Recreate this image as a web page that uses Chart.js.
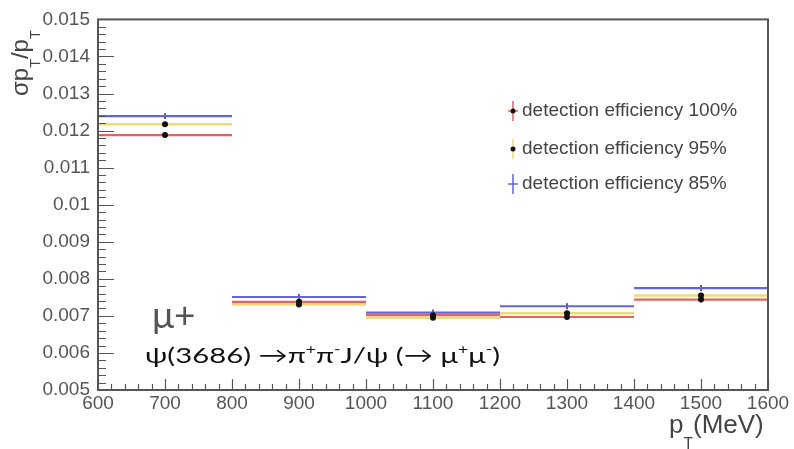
<!DOCTYPE html>
<html>
<head>
<meta charset="utf-8">
<script src="https://cdn.jsdelivr.net/npm/chart.js@4"></script>
<style>
  html, body { margin: 0; padding: 0; background: #fff; }
  #wrap { width: 794px; height: 449px; }
</style>
</head>
<body>
<div id="wrap"><canvas id="resChart" width="794" height="449"></canvas></div>
<script>
// bins in pT (MeV)
const binEdges = [600, 800, 1000, 1200, 1400, 1600];
const binCenters = [700, 900, 1100, 1300, 1500];

// sigma(pT)/pT per bin
const eff100 = [0.01188, 0.00738, 0.00702, 0.00697, 0.00744];
const eff95  = [0.01217, 0.00731, 0.00695, 0.00707, 0.00755];
const eff85  = [0.01239, 0.00751, 0.00709, 0.00726, 0.00775];
const err100 = [0.00008, 0.00008, 0.00008, 0.00008, 0.00008];
const err95  = [0.00008, 0.00008, 0.00008, 0.00008, 0.00008];
const err85  = [0.00008, 0.00008, 0.00008, 0.00008, 0.00008];

const legendLabels = ['detection efficiency 100%', 'detection efficiency 95%', 'detection efficiency 85%'];
const xTickLabels = ['600', '700', '800', '900', '1000', '1100', '1200', '1300', '1400', '1500', '1600'];
const yTickLabels = ['0.005', '0.006', '0.007', '0.008', '0.009', '0.01', '0.011', '0.012', '0.013', '0.014', '0.015'];

const RED = '#e06464';
const YELLOW = '#f3d877';
const BLUE = '#6464dc';
const AXIS = '#555';
const SANS = 'Liberation Sans';

// horizontal step segments for one series
function steps(vals) {
    const pts = [];
    vals.forEach((v, i) => {
        pts.push({x: binEdges[i], y: v});
        pts.push({x: binEdges[i + 1], y: v});
        pts.push({x: binEdges[i + 1], y: null});
    });
    return pts;
}

const series = [
    {vals: eff100, errs: err100, color: RED, dot: true, cross: true},
    {vals: eff95, errs: err95, color: YELLOW, dot: true, cross: false},
    {vals: eff85, errs: err85, color: BLUE, dot: false, cross: true}
];

// subscript / superscript text helper
function drawRich(ctx, parts, x, y, size, family, color, subDrop) {
    let cx = x;
    ctx.fillStyle = color;
    ctx.textBaseline = 'alphabetic';
    ctx.textAlign = 'left';
    for (const [t, m] of parts) {
        const s = m === 'n' ? size : size * 0.6;
        const dy = m === 'sub' ? size * (subDrop || 0.3) : (m === 'sup' ? -size * 0.42 : 0);
        ctx.font = s + 'px "' + family + '"';
        ctx.fillText(t, cx, y + dy);
        cx += ctx.measureText(t).width;
    }
    return cx - x;
}

function richWidth(ctx, parts, size, family) {
    let w = 0;
    for (const [t, m] of parts) {
        ctx.font = (m === 'n' ? size : size * 0.6) + 'px "' + family + '"';
        w += ctx.measureText(t).width;
    }
    return w;
}

const errorBars = {
    id: 'errorBars',
    beforeDatasetsDraw(chart) {
        const ctx = chart.ctx, xs = chart.scales.x, ys = chart.scales.y;
        ctx.save();
        ctx.lineWidth = 1.5;
        series.forEach(s => {
            ctx.strokeStyle = s.color === BLUE ? '#23237a' : s.color;
            s.vals.forEach((v, i) => {
                const px = xs.getPixelForValue(binCenters[i]);
                ctx.beginPath();
                ctx.moveTo(px, ys.getPixelForValue(v - s.errs[i]));
                ctx.lineTo(px, ys.getPixelForValue(v + s.errs[i]));
                ctx.stroke();
            });
        });
        ctx.restore();
    }
};

const frameAndText = {
    id: 'frameAndText',
    afterDraw(chart) {
        const ctx = chart.ctx, xs = chart.scales.x, ys = chart.scales.y;
        const a = chart.chartArea;
        ctx.save();
        // frame
        ctx.strokeStyle = AXIS;
        ctx.lineWidth = 2;
        ctx.strokeRect(a.left, a.top, a.right - a.left, a.bottom - a.top);
        // inward ticks
        ctx.lineWidth = 1.2;
        ctx.beginPath();
        for (let k = 0; k <= 50; k++) {
            const v = 0.005 + k * 0.0002;
            const py = Math.round(ys.getPixelForValue(v)) + 0.5;
            const len = k % 5 === 0 ? 16 : 8;
            ctx.moveTo(a.left, py);
            ctx.lineTo(a.left + len, py);
        }
        for (let k = 0; k <= 50; k++) {
            const v = 600 + k * 20;
            const px = Math.round(xs.getPixelForValue(v)) + 0.5;
            const len = k % 5 === 0 ? 11 : 6;
            ctx.moveTo(px, a.bottom);
            ctx.lineTo(px, a.bottom - len);
        }
        ctx.stroke();

        // legend
        const lx = 513, rows = [111, 149, 184];
        series.forEach((s, i) => {
            const y = rows[i];
            ctx.strokeStyle = s.color;
            ctx.lineWidth = 1.5;
            ctx.beginPath();
            ctx.moveTo(lx, y - 10);
            ctx.lineTo(lx, y + 10);
            if (s.cross) {
                ctx.moveTo(lx - 5, y);
                ctx.lineTo(lx + 5, y);
            }
            ctx.stroke();
            if (s.dot) {
                ctx.fillStyle = '#111';
                ctx.beginPath();
                ctx.arc(lx, y, 2.5, 0, Math.PI * 2);
                ctx.fill();
            }
            ctx.fillStyle = '#444';
            ctx.font = '19px "' + SANS + '"';
            ctx.textBaseline = 'middle';
            ctx.textAlign = 'left';
            ctx.fillText(legendLabels[i], lx + 9, y);
        });

        // axis titles
        drawRich(ctx, [['p', 'n'], ['T', 'sub'], ['(MeV)', 'n']], 669, 433, 26, SANS, '#444', 0.62);
        ctx.save();
        ctx.translate(28, 96);
        ctx.rotate(-Math.PI / 2);
        drawRich(ctx, [['σp', 'n'], ['T', 'sub'], ['/p', 'n'], ['T', 'sub']], 0, 0, 24, SANS, '#444', 0.5);
        ctx.restore();

        // process annotation
        ctx.fillStyle = '#555';
        ctx.font = '37px "Lato"';
        ctx.textBaseline = 'alphabetic';
        ctx.fillText('μ+', 152, 328);
        const proc = [['ψ(3686) →π', 'n'], ['+', 'sup'], ['π', 'n'], ['-', 'sup'], ['J/ψ (→ μ', 'n'], ['+', 'sup'], ['μ', 'n'], ['-', 'sup'], [')', 'n']];
        const pw = richWidth(ctx, proc, 22, 'Lato');
        ctx.save();
        ctx.translate(145, 363);
        ctx.scale(355 / pw, 1);
        drawRich(ctx, proc, 0, 0, 22, 'Lato', '#111');
        ctx.restore();
        ctx.restore();
    }
};

const ctx = document.getElementById('resChart').getContext('2d');
const resChart = new Chart(ctx, {
    type: 'line',
    data: {
        datasets: [
            {
                label: 'markers 100%',
                data: binCenters.map((x, i) => ({x: x, y: eff100[i]})),
                showLine: false,
                pointRadius: 3,
                pointBackgroundColor: '#111',
                pointBorderWidth: 0
            },
            {
                label: 'markers 95%',
                data: binCenters.map((x, i) => ({x: x, y: eff95[i]})),
                showLine: false,
                pointRadius: 3,
                pointBackgroundColor: '#111',
                pointBorderWidth: 0
            },
            {
                label: legendLabels[2],
                data: steps(eff85),
                borderColor: BLUE,
                borderWidth: 2.2,
                pointRadius: 0,
                spanGaps: false
            },
            {
                label: legendLabels[1],
                data: steps(eff95),
                borderColor: YELLOW,
                borderWidth: 2.6,
                pointRadius: 0,
                spanGaps: false
            },
            {
                label: legendLabels[0],
                data: steps(eff100),
                borderColor: RED,
                borderWidth: 2.2,
                pointRadius: 0,
                spanGaps: false
            }
        ]
    },
    options: {
        responsive: false,
        animation: false,
        devicePixelRatio: 1,
        layout: {
            padding: {left: 0, top: 18, right: 26, bottom: 0}
        },
        plugins: {
            legend: {display: false},
            tooltip: {enabled: false}
        },
        scales: {
            x: {
                type: 'linear',
                min: 600,
                max: 1600,
                grid: {display: false, drawTicks: false, tickLength: 0},
                border: {display: false},
                ticks: {
                    stepSize: 100,
                    maxRotation: 0,
                    autoSkip: false,
                    padding: 2,
                    color: AXIS,
                    font: {family: SANS, size: 19},
                    callback: function (value, index) {
                        return xTickLabels[index];
                    }
                },
                afterFit: function (scale) {
                    scale.height = 59;
                }
            },
            y: {
                type: 'linear',
                min: 0.005,
                max: 0.015,
                grid: {display: false, drawTicks: false, tickLength: 0},
                border: {display: false},
                ticks: {
                    stepSize: 0.001,
                    padding: 8,
                    color: AXIS,
                    font: {family: SANS, size: 19},
                    callback: function (value, index) {
                        return yTickLabels[index];
                    }
                },
                afterFit: function (scale) {
                    scale.width = 98;
                }
            }
        }
    },
    plugins: [errorBars, frameAndText]
});
</script>
</body>
</html>
